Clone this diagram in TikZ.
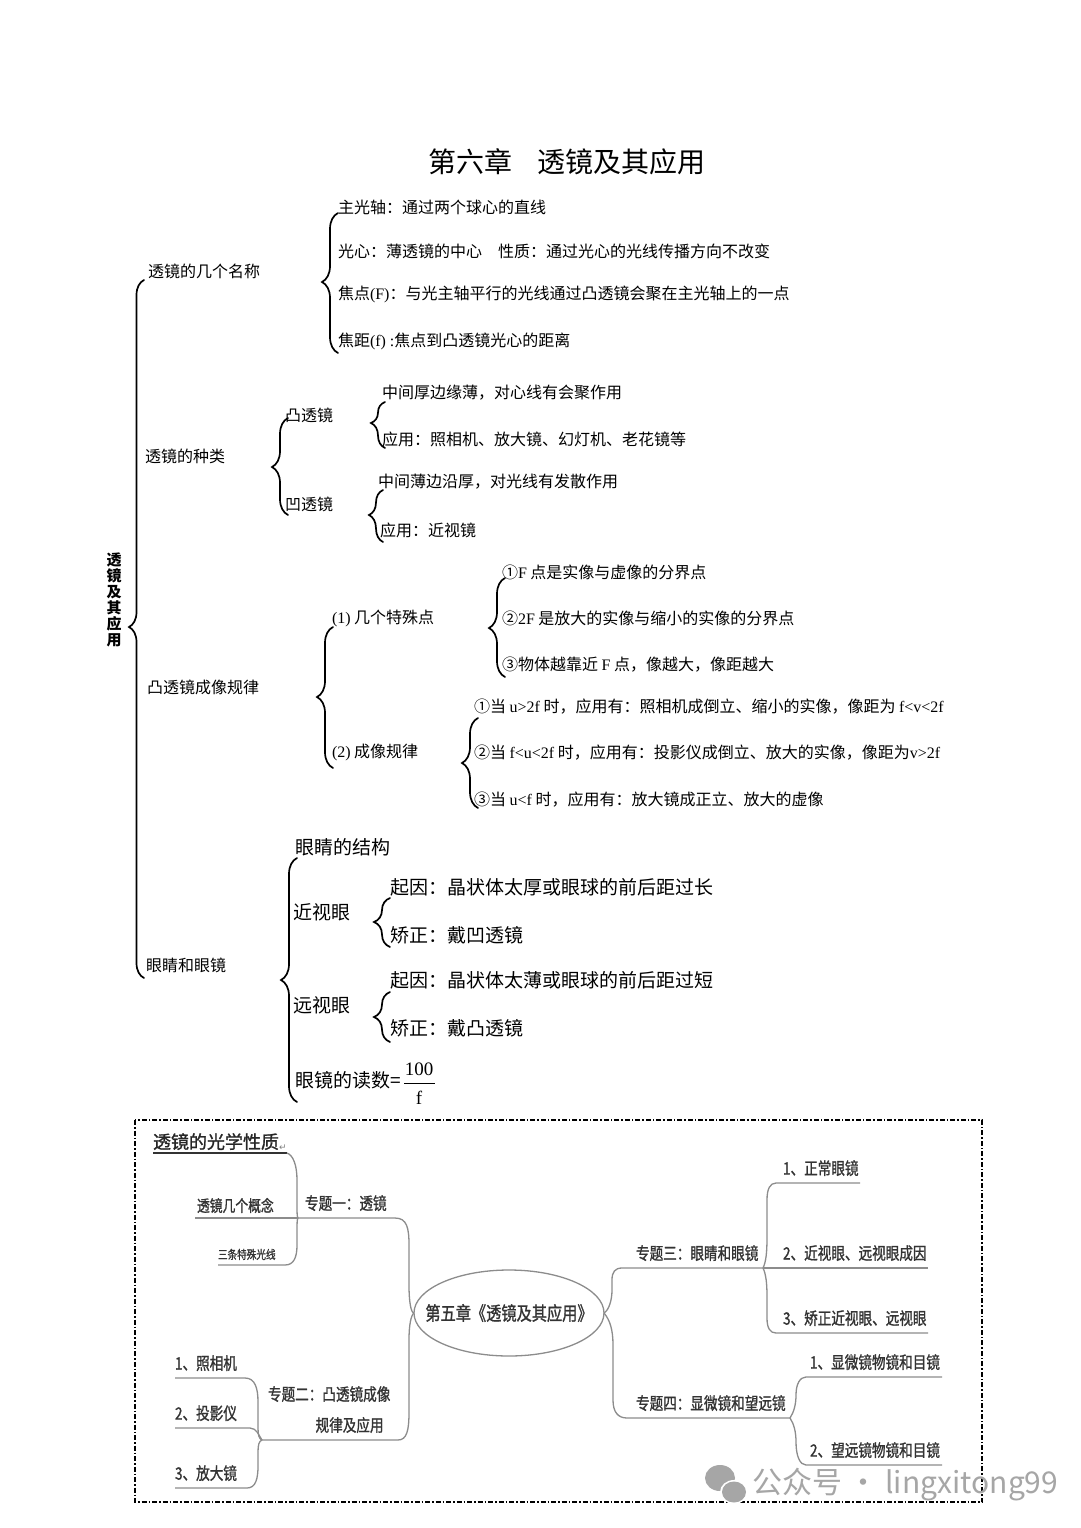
\documentclass[tikz,border=0pt]{standalone}
\usepackage{fontspec}
\setmainfont{Noto Sans CJK SC}
\newfontfamily\lat{Liberation Serif}
\newfontfamily\dv{DejaVu Sans}
\newfontfamily\mmf{Noto Sans CJK SC}[FakeStretch=0.8,FakeBold=1.2]
\newfontfamily\pbf{Noto Sans CJK SC}[FakeBold=1.2]
\usetikzlibrary{decorations.pathreplacing,shapes.geometric}
\newcommand\vbr[6]{%
  \coordinate (#1t) at (#2,#3);
  \coordinate (#1b) at (#2,#5);
  \pgfmathsetmacro\myasp{(#5-#4)/(#5-#3)}
  \draw[brc, decoration={brace,amplitude=#6,aspect=\myasp}] (#1b) -- (#1t);}
\begin{document}
\begin{tikzpicture}[x=1pt,y=-1pt,
  every node/.style={inner sep=0pt, outer sep=0pt},
  t/.style={anchor=west, font=\fontsize{16}{18}\selectfont},
  te/.style={anchor=west, font=\fontsize{19}{21}\selectfont},
  mm/.style={anchor=south west, font=\mmf\fontsize{17}{20}\selectfont, text=black!80},
  ml/.style={draw=black!45, line width=1.3pt},
  brc/.style={decorate, line width=1.7pt, line cap=round}]
\useasboundingbox (0,0) rectangle (1080,1528);
\fill[white] (0,0) rectangle (1080,1528);

% title
\node[font=\fontsize{28}{30}\selectfont] (title) at (567,162) {第六章\hspace{26pt}透镜及其应用};

% root
\node[font=\fontsize{15}{16}\selectfont\bfseries, align=center] (root) at (114,600) {透\\镜\\及\\其\\应\\用};
\vbr{mb}{144}{280}{627}{978}{15}

% level 1
\node[t] (n1) at (148,271) {透镜的几个名称};
\node[t] (n2) at (145,456) {透镜的种类};
\node[t] (n3) at (147,687) {凸透镜成像规律};
\node[t] (n4) at (146,965) {眼睛和眼镜};

% names
\vbr{b1}{338}{213}{282}{353}{16}
\node[t] (n11) at (338,207) {主光轴：通过两个球心的直线};
\node[t] (n12) at (338,251) {光心：薄透镜的中心\hspace{16pt}性质：通过光心的光线传播方向不改变};
\node[t] (n13) at (338,294) {焦点{\lat (F)}：与光主轴平行的光线通过凸透镜会聚在主光轴上的一点};
\node[t] (n14) at (338,341) {焦距{\lat (f) :}焦点到凸透镜光心的距离};

% types
\vbr{b2}{288}{418}{467}{515}{16}
\node[t] (n21) at (285,415) {凸透镜};
\node[t] (n22) at (285,504) {凹透镜};
\vbr{b21}{385}{402}{423}{448}{14}
\node[t] (n211) at (382,393) {中间厚边缘薄，对心线有会聚作用};
\node[t] (n212) at (382,439) {应用：照相机、放大镜、幻灯机、老花镜等};
\vbr{b22}{383}{490}{515}{542}{14}
\node[t] (n221) at (378,482) {中间薄边沿厚，对光线有发散作用};
\node[t] (n222) at (380,530) {应用：近视镜};

% imaging
\vbr{b3}{333}{627}{697}{768}{16}
\node[t] (n31) at (332,618) {{\lat (1)} 几个特殊点};
\node[t] (n32) at (332,752) {{\lat (2)} 成像规律};
\vbr{b31}{505}{578}{628}{677}{16}
\node[t] (n311) at (502,572) {①{\lat F} 点是实像与虚像的分界点};
\node[t] (n312) at (502,618) {②{\lat 2F} 是放大的实像与缩小的实像的分界点};
\node[t] (n313) at (502,665) {③物体越靠近 {\lat F} 点，像越大，像距越大};
\vbr{b32}{478}{718}{763}{808}{16}
\node[t] (n321) at (474,707) {①当 {\lat u>2f} 时，应用有：照相机成倒立、缩小的实像，像距为 {\lat f<v<2f}};
\node[t] (n322) at (474,753) {②当 {\lat f<u<2f} 时，应用有：投影仪成倒立、放大的实像，像距为{\lat v>2f}};
\node[t] (n323) at (474,800) {③当 {\lat u<f} 时，应用有：放大镜成正立、放大的虚像};

% eyes
\vbr{b4}{297}{858}{980}{1102}{16}
\node[te] (n41) at (295,847) {眼睛的结构};
\node[te] (n42) at (293,912) {近视眼};
\node[te] (n43) at (293,1005) {远视眼};
\vbr{b42}{390}{898}{922}{947}{16}
\node[te] (n421) at (390,887) {起因：晶状体太厚或眼球的前后距过长};
\node[te] (n422) at (390,935) {矫正：戴凹透镜};
\vbr{b43}{390}{992}{1017}{1042}{16}
\node[te] (n431) at (390,980) {起因：晶状体太薄或眼球的前后距过短};
\node[te] (n432) at (390,1028) {矫正：戴凸透镜};
\node[te] (n44) at (295,1080) {眼镜的读数=};
\node[font=\lat\fontsize{19}{21}\selectfont] (num) at (419,1069) {100};
\node[font=\lat\fontsize{19}{21}\selectfont] (den) at (419,1098) {f};
\coordinate (fl) at (404,1083);
\coordinate (fr) at (435,1083);
\draw[line width=0.6pt] (fl) -- (fr);

% dashed frame
\draw[dash pattern=on 5pt off 2pt on 1.5pt off 2pt, line width=1.1pt] (135,1120) rectangle (982,1502);

% mind map centre
\node[ellipse, draw=black!45, line width=1.3pt, minimum width=190pt, minimum height=86pt] (E) at (509,1313) {};
\node[font=\mmf\fontsize{19}{21}\selectfont, text=black!80] (Et) at (E.center) {第五章《透镜及其应用》};

% left top group
\node[anchor=south west, font=\pbf\fontsize{18}{20}\selectfont, text=black!85] (p0) at (153,1150) {透镜的光学性质};
\node[anchor=south west, font=\dv\fontsize{9}{10}\selectfont, text=black!50] (ret) at (p0.south east) {↵};
\coordinate (p0l) at (153,1153);
\coordinate (p0r) at (287,1153);
\draw[line width=1.2pt, black!80] (p0l) -- (p0r);
\coordinate (J1) at (298,1218);
\node[mm] (a1) at (305,1211) {专题一：透镜};
\coordinate (a1e) at (395,1218);
\draw[ml] (J1) -- (a1e) .. controls (407,1218) and (409,1228) .. (409,1245) -- (409,1285) .. controls (409,1302) and (411,1313) .. (E.west);
\node[mm, font=\mmf\fontsize{16}{18}\selectfont] (a11) at (197,1213) {透镜几个概念};
\coordinate (a11l) at (195,1218);
\draw[ml] (a11l) -- (J1);
\node[mm, font=\mmf\fontsize{12}{14}\selectfont] (a12) at (218,1260) {三条特殊光线};
\coordinate (a12l) at (218,1265);
\coordinate (a12r) at (285,1265);
\draw[ml] (a12l) -- (a12r) .. controls (294,1265) and (297,1257) .. (297,1245) -- (297,1232) .. controls (297,1224) and (297,1219) .. (J1);
\draw[ml] (p0r) .. controls (293,1155) and (297,1165) .. (297,1180) -- (297,1204) .. controls (297,1212) and (297,1217) .. (J1);

% left bottom group
\coordinate (J2) at (262,1440);
\node[mm, align=left, anchor=south west, font=\mmf\fontsize{17}{31}\selectfont] (a2) at (268,1433) {专题二：凸透镜成像\\\hspace{2.8em}规律及应用};
\coordinate (a2e) at (398,1440);
\draw[ml] (J2) -- (a2e) .. controls (407,1440) and (409,1430) .. (409,1412) -- (409,1340) .. controls (409,1325) and (411,1315) .. (E.west);
\node[mm] (a21) at (175,1371) {1、照相机};
\coordinate (a21l) at (175,1378);
\coordinate (a21r) at (245,1378);
\draw[ml] (a21l) -- (a21r) .. controls (255,1378) and (258,1388) .. (258,1402) -- (258,1428) .. controls (258,1435) and (259,1439) .. (J2);
\node[mm] (a22) at (175,1421) {2、投影仪};
\coordinate (a22l) at (175,1428);
\coordinate (a22r) at (250,1428);
\draw[ml] (a22l) -- (a22r) .. controls (257,1428) and (259,1436) .. (J2);
\node[mm] (a23) at (175,1481) {3、放大镜};
\coordinate (a23l) at (175,1488);
\coordinate (a23r) at (247,1488);
\draw[ml] (a23l) -- (a23r) .. controls (256,1488) and (258,1478) .. (258,1466) -- (258,1452) .. controls (258,1445) and (259,1441) .. (J2);

% right top group
\coordinate (J3) at (763,1268);
\node[mm] (a3) at (636,1261) {专题三：眼睛和眼镜};
\coordinate (a3l) at (622,1268);
\draw[ml] (E.east) .. controls (609,1310) and (612,1300) .. (612,1290) -- (612,1280) .. controls (612,1272) and (615,1268) .. (a3l) -- (J3);
\node[mm] (a31) at (783,1176) {1、正常眼镜};
\coordinate (a31l) at (776,1183);
\coordinate (a31r) at (860,1183);
\draw[ml] (J3) .. controls (766,1262) and (767,1252) .. (767,1238) -- (767,1200) .. controls (767,1189) and (770,1183) .. (a31l) -- (a31r);
\node[mm] (a32) at (783,1261) {2、近视眼、远视眼成因};
\coordinate (a32r) at (928,1268);
\draw[ml] (J3) -- (a32r);
\node[mm] (a33) at (783,1326) {3、矫正近视眼、远视眼};
\coordinate (a33l) at (776,1333);
\coordinate (a33r) at (928,1333);
\draw[ml] (J3) .. controls (766,1274) and (767,1284) .. (767,1296) -- (767,1318) .. controls (767,1328) and (770,1333) .. (a33l) -- (a33r);

% right bottom group
\coordinate (J4) at (790,1418);
\node[mm] (a4) at (636,1411) {专题四：显微镜和望远镜};
\coordinate (a4l) at (627,1418);
\draw[ml] (E.east) .. controls (610,1320) and (613,1330) .. (613,1345) -- (613,1400) .. controls (613,1412) and (618,1418) .. (a4l) -- (J4);
\node[mm] (a41) at (810,1370) {1、显微镜物镜和目镜};
\coordinate (a41l) at (806,1377);
\coordinate (a41r) at (942,1377);
\draw[ml] (J4) .. controls (794,1412) and (796,1404) .. (796,1395) .. controls (796,1384) and (800,1377) .. (a41l) -- (a41r);
\node[mm] (a42) at (810,1458) {2、望远镜物镜和目镜};
\coordinate (a42l) at (806,1465);
\coordinate (a42r) at (942,1465);
\draw[ml] (J4) .. controls (794,1424) and (796,1432) .. (796,1442) .. controls (796,1456) and (800,1465) .. (a42l) -- (a42r);

% watermark
\fill[black!35] (720,1478) ellipse (15pt and 13pt);
\fill[white] (734,1492) ellipse (14pt and 12pt);
\fill[black!35] (734,1492) ellipse (12pt and 10.5pt);
\node[anchor=west, font=\fontsize{30}{32}\selectfont, text=black!35] (wm) at (752,1485) {公众号 · lingxitong99};
\end{tikzpicture}
\end{document}
